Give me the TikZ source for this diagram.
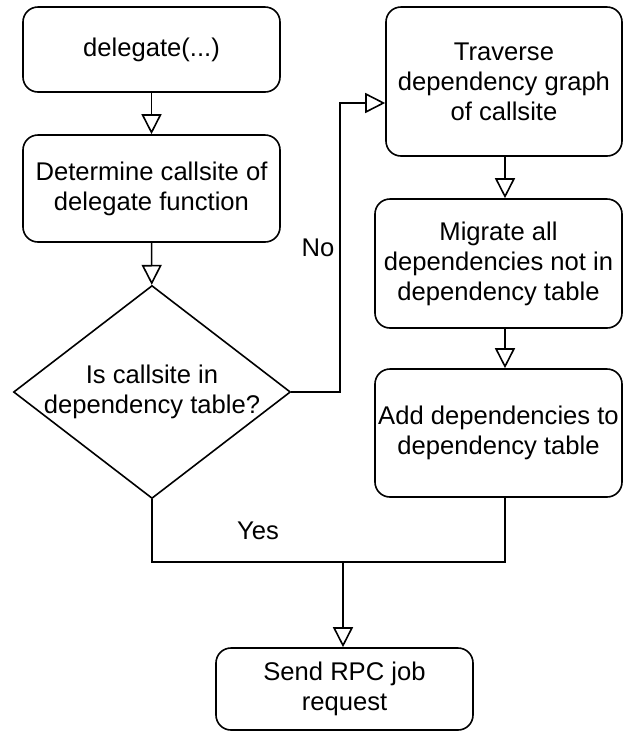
\documentclass[tikz,border=0pt]{standalone}
\usepackage{fontspec}
\setmainfont{Liberation Sans}
\usetikzlibrary{shapes.geometric, arrows.meta}

\begin{document}
\begin{tikzpicture}
[
    x = 1pt, y = -1pt,
    line width = 1.6pt,
    every node/.append style = {font = \fontsize{25.6pt}{30pt}\selectfont, align = center},
    box/.style 2 args = {draw, rounded corners = 15pt, inner sep = 0, minimum width = #1, minimum height = #2},
    decision/.style = {draw, diamond, aspect = 1.3, inner xsep = -6pt, inner ysep = 0, minimum width = 277pt, minimum height = 213pt},
    flow/.style = {-{Triangle[open, length = 20pt, width = 20pt]}},
    tag/.style = {draw = none}]

\useasboundingbox (0,0) rectangle (624,732);

\node [box = {257pt}{85pt}] (delegate) at (151.5,49.5) {delegate(...)};
\node [box = {257pt}{107pt}] (callsite) at (151.5,188.5) {Determine callsite of\\delegate function};
\node [decision] (intable) at (152,392) {Is callsite in\\dependency table?};
\node [box = {236pt}{149pt}] (traverse) at (504,81.5) {Traverse\\dependency graph\\of callsite};
\node [box = {247pt}{129pt}] (migrate) at (498.5,263.5) {Migrate all\\dependencies not in\\dependency table};
\node [box = {247pt}{128pt}] (adddeps) at (498.5,433) {Add dependencies to\\dependency table};
\node [box = {257pt}{82pt}] (sendrpc) at (344.5,689) {Send RPC job\\request};

\coordinate (nobend) at (340,392);
\coordinate (merge) at (343,562);

\draw [flow] (delegate) -- (callsite);
\draw [flow] (callsite) -- (intable);
\draw [flow] (intable.east) -- (nobend) |- ([yshift = -21.5pt]traverse.west);
\draw [flow] (traverse.south -| 505,0) -- (migrate.north -| 505,0);
\draw [flow] (migrate.south -| 505,0) -- (adddeps.north -| 505,0);
\draw (intable.south) |- (merge);
\draw (adddeps.south -| 505,0) |- (merge);
\draw [flow] (merge) -- (sendrpc.north -| merge);

\node [tag] (nolabel) at (318,248) {No};
\node [tag] (yeslabel) at (258,531) {Yes};

\end{tikzpicture}
\end{document}
